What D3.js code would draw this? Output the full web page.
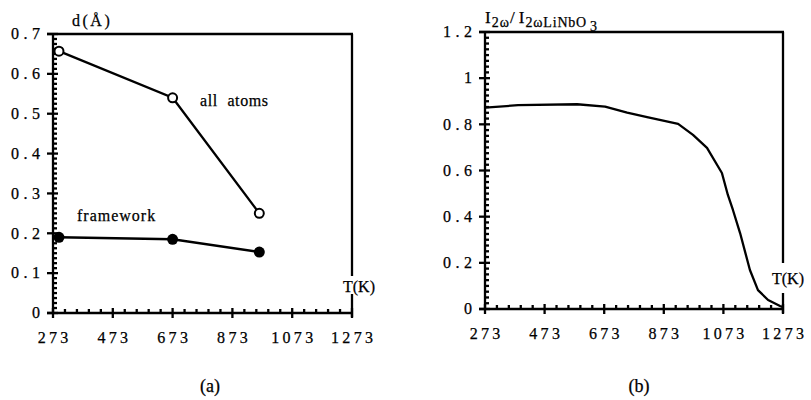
<!DOCTYPE html>
<html>
<head>
<meta charset="utf-8">
<script src="https://cdn.jsdelivr.net/npm/d3@7"></script>
<style>
  body { margin: 0; background: #fff; }
  svg text { font-family: "Liberation Serif", "Times New Roman", Times, "DejaVu Serif", serif; fill: #000; stroke: #000; stroke-width: 0.25; }
</style>
</head>
<body>
<svg id="chart" width="811" height="400"></svg>
<script>
// Temperature axis shared by both panels
const tempTicks = [273, 473, 673, 873, 1073, 1273];

// Panel (a): mean displacement d (Å)
const dTicks = [0, 0.1, 0.2, 0.3, 0.4, 0.5, 0.6, 0.7];
const dTickLabels = ["0", "0.1", "0.2", "0.3", "0.4", "0.5", "0.6", "0.7"];
const allAtomsT = [293, 673, 963];
const allAtomsD = [0.657, 0.54, 0.25];
const frameworkT = [293, 673, 963];
const frameworkD = [0.19, 0.185, 0.153];

// Panel (b): SHG intensity relative to LiNbO3
const ratioTicks = [0, 0.2, 0.4, 0.6, 0.8, 1, 1.2];
const ratioTickLabels = ["0", "0.2", "0.4", "0.6", "0.8", "1", "1.2"];
const shgT = [273, 384, 582, 676, 750, 817, 921, 971, 1018, 1068, 1088, 1105, 1129, 1162, 1189, 1223, 1263, 1273];
const shgRatio = [0.872, 0.883, 0.887, 0.877, 0.851, 0.831, 0.802, 0.754, 0.698, 0.589, 0.494, 0.429, 0.329, 0.169, 0.082, 0.039, 0.013, 0.008];

const svg = d3.select("#chart");
const LSY = 4.5; // letter spacing of value numerals
const LSX = 3.3; // letter spacing of temperature numerals

function drawFrame(x, y, yTicks, yLabels, yMinorPer, tGap) {
  const g = svg.append("g").attr("stroke", "#000").attr("stroke-width", 2.3).attr("fill", "none");
  const [x0, x1] = x.range();
  const [yb, yt] = y.range();
  // left and bottom axes
  g.append("line").attr("x1", x0).attr("x2", x0).attr("y1", yb + 1).attr("y2", yt);
  g.append("line").attr("x1", x0 - 6).attr("x2", x1 + 1).attr("y1", yb).attr("y2", yb);
  // top and right border (right border interrupted by the T(K) label)
  g.append("line").attr("x1", x0 - 6).attr("x2", x1 + 1).attr("y1", yt).attr("y2", yt);
  g.append("line").attr("x1", x1).attr("x2", x1).attr("y1", yt).attr("y2", tGap[0]);
  g.append("line").attr("x1", x1).attr("x2", x1).attr("y1", tGap[1]).attr("y2", yb + 4);

  // y major ticks cross the axis; minor ticks point inward
  yTicks.forEach((v, i) => {
    g.append("line").attr("x1", x0 - 6).attr("x2", x0 + 5).attr("y1", y(v)).attr("y2", y(v));
    if (i < yTicks.length - 1) {
      const step = (yTicks[i + 1] - v) / yMinorPer;
      for (let k = 1; k < yMinorPer; k++) {
        const yy = y(v + k * step);
        g.append("line").attr("x1", x0).attr("x2", x0 + 4).attr("y1", yy).attr("y2", yy);
      }
    }
  });
  // x major and minor ticks
  tempTicks.forEach((v, i) => {
    g.append("line").attr("x1", x(v)).attr("x2", x(v)).attr("y1", yb - 5).attr("y2", yb + 5);
    if (i < tempTicks.length - 1) {
      const step = (tempTicks[i + 1] - v) / 5;
      for (let k = 1; k < 5; k++) {
        const xx = x(v + k * step);
        g.append("line").attr("x1", xx).attr("x2", xx).attr("y1", yb).attr("y2", yb - 4);
      }
    }
  });

  // tick labels
  const lab = svg.append("g").attr("font-size", 16);
  yTicks.forEach((v, i) => {
    lab.append("text").attr("x", x0 - 13 + LSY).attr("y", y(v)).attr("dy", "0.33em")
      .attr("letter-spacing", LSY).attr("text-anchor", "end").text(yLabels[i]);
  });
  tempTicks.forEach(v => {
    lab.append("text").attr("x", x(v) + LSX / 2).attr("y", yb + 30)
      .attr("letter-spacing", LSX).attr("text-anchor", "middle").text(String(v));
  });
}

// ---------- Panel (a) ----------
const xa = d3.scaleLinear().domain([273, 1273]).range([53, 352]);
const ya = d3.scaleLinear().domain([0, 0.7]).range([313, 34]);
drawFrame(xa, ya, dTicks, dTickLabels, 8, [276, 294]);

const lineA = d3.line().x(d => xa(d[0])).y(d => ya(d[1]));
const allPts = allAtomsT.map((t, i) => [t, allAtomsD[i]]);
const fwPts = frameworkT.map((t, i) => [t, frameworkD[i]]);
svg.append("path").datum(allPts).attr("d", lineA).attr("fill", "none").attr("stroke", "#000").attr("stroke-width", 2.3);
svg.append("path").datum(fwPts).attr("d", lineA).attr("fill", "none").attr("stroke", "#000").attr("stroke-width", 2.3);
svg.selectAll(".open").data(allPts).join("circle").attr("class", "open")
  .attr("cx", d => xa(d[0])).attr("cy", d => ya(d[1])).attr("r", 4.5)
  .attr("fill", "#fff").attr("stroke", "#000").attr("stroke-width", 2);
svg.selectAll(".filled").data(fwPts).join("circle").attr("class", "filled")
  .attr("cx", d => xa(d[0])).attr("cy", d => ya(d[1])).attr("r", 5.5).attr("fill", "#000");

svg.append("text").attr("x", 200).attr("y", 106).attr("font-size", 16).attr("letter-spacing", 0.6)
  .attr("word-spacing", 5).text("all atoms");
svg.append("text").attr("x", 77).attr("y", 221).attr("font-size", 16).attr("letter-spacing", 1).text("framework");
svg.append("text").attr("x", 343).attr("y", 292).attr("font-size", 16).text("T(K)");
svg.append("text").attr("x", 72).attr("y", 26).attr("font-size", 16).attr("letter-spacing", 2.5).text("d(Å)");
svg.append("text").attr("x", 210).attr("y", 392).attr("font-size", 18).attr("text-anchor", "middle").text("(a)");

// ---------- Panel (b) ----------
const xb = d3.scaleLinear().domain([273, 1273]).range([485, 783]);
const yb = d3.scaleLinear().domain([0, 1.2]).range([309, 32]);
drawFrame(xb, yb, ratioTicks, ratioTickLabels, 8, [263, 293]);

const lineB = d3.line().x((d, i) => xb(shgT[i])).y(d => yb(d));
svg.append("path").datum(shgRatio).attr("d", lineB).attr("fill", "none")
  .attr("stroke", "#000").attr("stroke-width", 2.3).attr("stroke-linejoin", "round");

svg.append("text").attr("x", 772).attr("y", 284).attr("font-size", 16).text("T(K)");
const yl = svg.append("text").attr("x", 485).attr("y", 23).attr("font-size", 17);
yl.append("tspan").text("I");
yl.append("tspan").attr("font-size", 14).attr("dy", 4).attr("dx", 1).attr("letter-spacing", 1).text("2ω");
yl.append("tspan").attr("dy", -4).text("/ I");
yl.append("tspan").attr("font-size", 14).attr("dy", 4).attr("dx", 1).attr("letter-spacing", 0.8).text("2ωLiNbO");
yl.append("tspan").attr("font-size", 14).attr("dy", 4).attr("dx", 3).text("3");
svg.append("text").attr("x", 639).attr("y", 392).attr("font-size", 18).attr("text-anchor", "middle").text("(b)");
</script>
</body>
</html>
